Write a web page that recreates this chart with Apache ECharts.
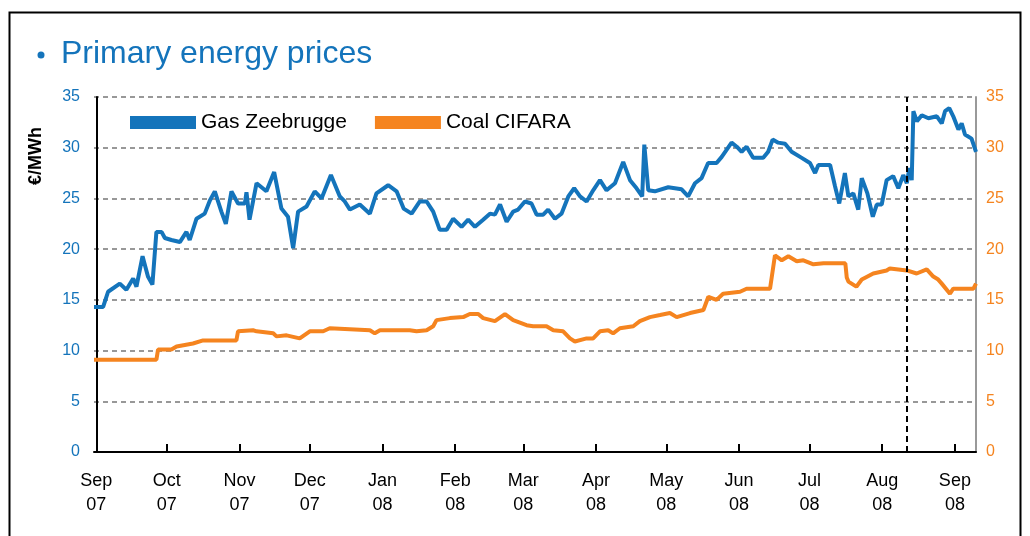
<!DOCTYPE html>
<html>
<head>
<meta charset="utf-8">
<script src="https://cdn.jsdelivr.net/npm/echarts@6/dist/echarts.min.js"></script>
<style>
  html, body { margin: 0; padding: 0; background: #fff; }
  #chart { width: 1030px; height: 536px; }
</style>
</head>
<body>
<div id="chart"></div>
<script>
// days counted from 1 Sep 2007
var monthDays = [0, 30, 61, 91, 122, 153, 182, 213, 243, 274, 304, 335, 366];
var monthLabels = ['Sep\n07', 'Oct\n07', 'Nov\n07', 'Dec\n07', 'Jan\n08', 'Feb\n08', 'Mar\n08',
    'Apr\n08', 'May\n08', 'Jun\n08', 'Jul\n08', 'Aug\n08', 'Sep\n08'];

var gasDay = [-1, 2.9, 5.0, 10.0, 12.8, 15.7, 17.1, 19.7, 22.0, 23.9, 25.6, 27.8, 29.2, 32.0, 35.6,
    38.4, 39.8, 42.7, 46.2, 48.4, 50.5, 53.3, 55.2, 57.6, 60.4, 63.3, 64.0, 65.3, 68.3, 72.5,
    75.8, 78.9, 81.7, 83.9, 86.0, 89.6, 93.1, 96.0, 100.0, 103.8, 105.9, 108.1, 112.3, 116.6,
    119.4, 124.4, 128.0, 131.0, 134.4, 137.9, 140.8, 143.6, 146.4, 149.3, 152.1, 155.7, 158.5,
    161.4, 164.9, 167.8, 169.9, 172.1, 174.9, 177.7, 179.8, 182.7, 185.5, 187.7, 190.5, 192.6,
    195.5, 198.3, 201.2, 203.7, 206.2, 209.0, 211.8, 214.7, 217.5, 221.1, 224.6, 227.5, 230.3,
    232.7, 233.6, 235.3, 238.1, 243.8, 249.5, 252.3, 255.2, 258.0, 260.8, 264.4, 266.6, 270.8,
    273.0, 275.1, 277.2, 280.0, 284.3, 286.4, 288.3, 290.7, 293.6, 296.4, 300.7, 304.2, 306.4,
    307.8, 312.8, 314.9, 316.7, 319.1, 320.6, 322.7, 324.8, 326.3, 328.7, 331.0, 332.7, 334.8,
    336.9, 339.7, 341.9, 344.0, 345.5, 346.6, 347.6, 348.3, 349.8, 351.9, 354.7, 358.3, 360.4,
    361.8, 363.6, 365.3, 367.5, 368.9, 370.3, 373.1, 375];
var gasPrice = [14.3, 14.3, 15.8, 16.6, 16.0, 17.1, 16.3, 19.3, 17.3, 16.5, 21.7, 21.7, 21.1, 20.9, 20.7,
    21.7, 20.9, 23.0, 23.5, 24.8, 25.7, 23.7, 22.5, 25.7, 24.5, 24.5, 25.6, 22.9, 26.5, 25.7,
    27.6, 24.0, 23.2, 20.1, 23.7, 24.2, 25.7, 25.0, 27.3, 25.2, 24.7, 23.9, 24.4, 23.5,
    25.5, 26.3, 25.7, 24.0, 23.5, 24.7, 24.7, 23.7, 21.9, 21.9, 23.0, 22.2, 22.9,
    22.2, 22.9, 23.5, 23.4, 24.4, 22.7, 23.7, 23.9, 24.7, 24.5, 23.4, 23.4, 23.9,
    23.0, 23.5, 25.2, 26.0, 25.2, 24.7, 25.8, 26.8, 25.8, 26.5, 28.6, 26.8, 26.0,
    25.2, 30.3, 25.8, 25.7, 26.1, 25.9, 25.2, 26.5, 27.0, 28.5, 28.5, 29.1, 30.5,
    30.1, 29.6, 30.1, 29.0, 29.0, 29.6, 30.8, 30.5, 30.4, 29.6, 29.0, 28.5, 27.5,
    28.3, 28.3, 26.2, 24.5, 27.5, 25.2, 25.5, 23.9, 27.0, 25.5, 23.2, 24.4, 24.4,
    26.8, 27.2, 26.0, 27.3, 26.5, 28.0, 26.8, 33.6, 32.6, 33.2, 32.9, 33.1, 32.4,
    33.6, 33.9, 33.1, 31.8, 32.4, 31.3, 30.9, 29.6];

var coalDay = [-1, 25.6, 26.3, 32.0, 34.2, 41.2, 45.5, 59.7, 60.4, 66.8, 68.3, 75.4, 76.8, 81.1, 86.7,
    91.0, 96.7, 99.5, 116.6, 118.7, 120.9, 133.6, 136.5, 140.8, 143.6, 145.0, 150.7, 156.4, 159.2,
    162.8, 164.9, 169.9, 174.2, 177.7, 183.4, 186.2, 191.9, 194.8, 199.0, 201.9, 204.0, 209.0,
    211.8, 214.7, 218.2, 220.3, 223.2, 228.9, 231.7, 236.0, 240.3, 244.5, 247.4, 253.1, 258.8,
    260.9, 264.4, 267.2, 274.4, 277.2, 287.2, 289.3, 292.2, 295.0, 298.6, 301.4, 305.7, 310.0,
    319.3, 319.9, 320.6, 324.0, 326.3, 331.2, 336.9, 338.3, 345.5, 349.7, 354.0, 356.8, 358.9,
    360.4, 363.9, 365.3, 373.9, 375];
var coalPrice = [9.1, 9.1, 10.1, 10.1, 10.4, 10.7, 11.0, 11.0, 11.9, 12.0, 11.9, 11.7, 11.4, 11.5, 11.2,
    11.9, 11.9, 12.2, 12.0, 11.7, 12.0, 12.0, 11.9, 12.0, 12.4, 13.0, 13.2, 13.3, 13.6,
    13.6, 13.2, 12.9, 13.6, 13.0, 12.5, 12.4, 12.4, 12.0, 11.9, 11.2, 10.9, 11.2,
    11.2, 11.9, 12.0, 11.7, 12.2, 12.4, 12.9, 13.3, 13.5, 13.7, 13.3, 13.7, 14.0,
    15.3, 15.0, 15.6, 15.8, 16.1, 16.1, 19.4, 18.9, 19.3, 18.8, 18.9, 18.5, 18.6,
    18.6, 17.2, 16.8, 16.3, 17.0, 17.6, 17.9, 18.1, 17.9, 17.6, 18.0, 17.3, 17.0,
    16.6, 15.6, 16.1, 16.1, 16.6];

var cutoffDay = 345.5;

var BLUE = '#1474bb';
var ORANGE = '#f5841f';
var FONT = '"Liberation Sans", Arial, sans-serif';

function pairs(xs, ys){
    var out = [];
    for (var i = 0; i < xs.length; i++) {
        out.push([xs[i], ys[i]]);
    }
    return out;
}

var myChart = echarts.init(document.getElementById('chart'));

var option = {
    animation: false,
    backgroundColor: '#fff',
    textStyle: { fontFamily: FONT },
    title: {
        text: 'Primary energy prices',
        left: 56,
        top: 33,
        textStyle: { fontSize: 32, fontWeight: 'normal', color: BLUE, fontFamily: FONT }
    },
    graphic: [
        {
            type: 'rect',
            shape: { x: 9.5, y: 12.5, width: 1011, height: 600 },
            style: { fill: 'none', stroke: '#000', lineWidth: 2 }
        },
        {
            type: 'circle',
            shape: { cx: 41, cy: 55, r: 3.5 },
            style: { fill: BLUE }
        },
        {
            type: 'text',
            x: 36,
            y: 156,
            rotation: Math.PI / 2,
            style: {
                text: '€/MWh',
                fill: '#000',
                font: 'bold 18px ' + FONT,
                textAlign: 'center',
                textVerticalAlign: 'middle'
            }
        }
    ],
    legend: {
        left: 125,
        top: 107,
        itemWidth: 66,
        itemHeight: 13,
        itemGap: 28,
        icon: 'rect',
        textStyle: { fontSize: 21, color: '#000', fontFamily: FONT },
        data: ['Gas Zeebrugge', 'Coal CIFARA']
    },
    grid: { left: 94, right: 54, top: 97, bottom: 84 },
    xAxis: {
        type: 'value',
        min: -1,
        max: 375,
        axisLine: { lineStyle: { color: '#000', width: 2 } },
        axisTick: {
            show: true,
            inside: true,
            length: 8,
            customValues: monthDays,
            lineStyle: { color: '#000', width: 2 }
        },
        splitLine: { show: false },
        axisLabel: {
            customValues: monthDays,
            margin: 17,
            fontSize: 18,
            lineHeight: 24,
            color: '#000',
            formatter: function(v){
                return monthLabels[monthDays.indexOf(v)];
            }
        }
    },
    yAxis: [
        {
            type: 'value',
            min: 0,
            max: 35,
            interval: 5,
            axisLine: { show: true, lineStyle: { color: '#000', width: 2 } },
            axisTick: { show: false },
            axisLabel: { color: BLUE, fontSize: 16, margin: 14 },
            splitLine: { show: true, lineStyle: { color: '#777', width: 1.5, type: [5, 4] } }
        },
        {
            type: 'value',
            position: 'right',
            min: 0,
            max: 35,
            interval: 5,
            axisLine: { show: true, lineStyle: { color: '#999', width: 2 } },
            axisTick: { show: false },
            axisLabel: { color: ORANGE, fontSize: 16, margin: 10 },
            splitLine: { show: false }
        }
    ],
    series: [
        {
            name: 'Gas Zeebrugge',
            type: 'line',
            yAxisIndex: 0,
            showSymbol: false,
            symbol: 'none',
            color: BLUE,
            lineStyle: { width: 4, color: BLUE },
            data: pairs(gasDay, gasPrice),
            markLine: {
                silent: true,
                symbol: 'none',
                label: { show: false },
                lineStyle: { color: '#000', type: [6, 4], width: 2 },
                data: [{ xAxis: cutoffDay }]
            },
            z: 3
        },
        {
            name: 'Coal CIFARA',
            type: 'line',
            yAxisIndex: 1,
            showSymbol: false,
            symbol: 'none',
            color: ORANGE,
            lineStyle: { width: 4, color: ORANGE },
            data: pairs(coalDay, coalPrice),
            z: 2
        }
    ]
};

myChart.setOption(option);
</script>
</body>
</html>
